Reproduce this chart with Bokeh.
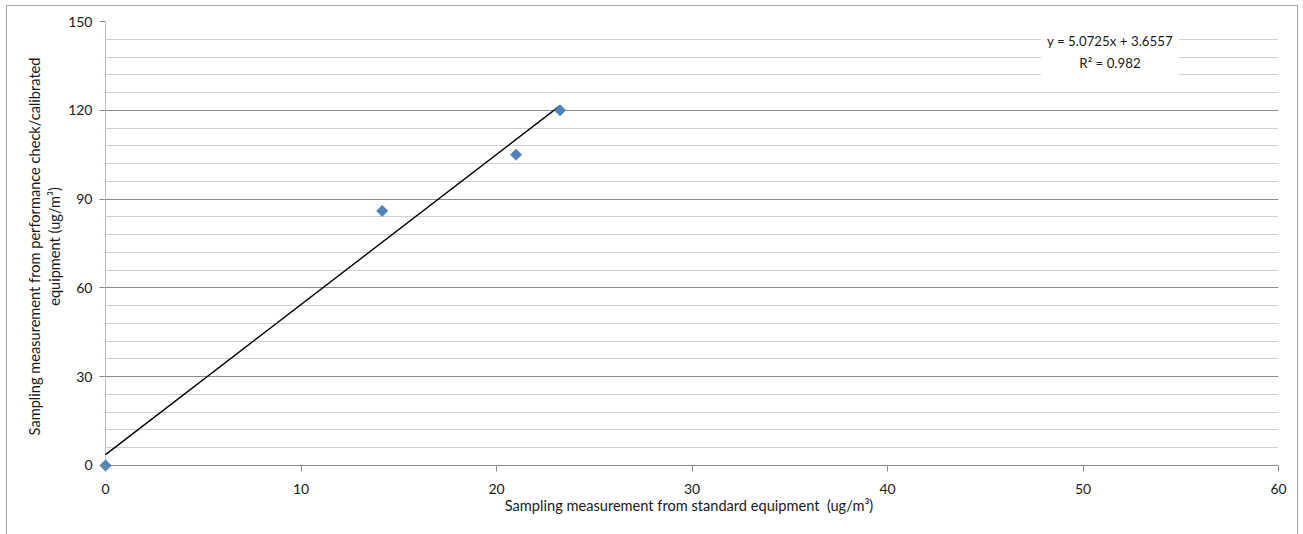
from bokeh.plotting import figure
from bokeh.models import FixedTicker, Label, Range1d, Grid, BoxAnnotation
from bokeh.embed import file_html
from bokeh.resources import INLINE

# data
x_std = [0.0, 14.15, 21.0, 23.25]
y_cal = [0.0, 86.0, 105.0, 120.0]
slope = 5.0725
intercept = 3.6557
r2 = 0.982
x_ticks = [0, 10, 20, 30, 40, 50, 60]
y_ticks = [0, 30, 60, 90, 120, 150]
y_minor = [6, 12, 18, 24, 36, 42, 48, 54, 66, 72, 78, 84, 96, 102, 108, 114, 126, 132, 138, 144]

FONT = "Lato"
# small padding beyond the axes so the marker at the origin is not clipped
PAD_X = 0.31
PAD_Y = 2.03

p = figure(width=1292, height=536, output_backend="svg", toolbar_location=None,
           x_range=Range1d(-PAD_X, 60), y_range=Range1d(-PAD_Y, 150),
           min_border_left=92, min_border_right=21, min_border_top=15, min_border_bottom=71,
           styles={"border": "1px solid #a6a6a6", "margin-left": "6px", "margin-top": "5px"})
p.outline_line_color = None
p.background_fill_color = "white"
p.border_fill_color = "white"

p.xgrid.grid_line_color = None
p.ygrid.ticker = FixedTicker(ticks=y_ticks, minor_ticks=y_minor)
p.ygrid.grid_line_color = "#8c8c8c"
p.ygrid.minor_grid_line_color = "#d0d0d0"

# hide the part of the horizontal grid left of x = 0
p.add_layout(BoxAnnotation(right=0, fill_color="white", fill_alpha=1.0,
                           line_color=None, level="underlay"))
# vertical axis line at x = 0
p.add_layout(Grid(dimension=0, ticker=FixedTicker(ticks=[0]),
                  grid_line_color="#bfbfbf", level="underlay"))

p.xaxis.ticker = FixedTicker(ticks=x_ticks)
p.yaxis.ticker = FixedTicker(ticks=y_ticks, minor_ticks=y_minor)
for ax in (p.xaxis, p.yaxis):
    ax.axis_line_color = None
    ax.major_tick_line_color = "#8c8c8c"
    ax.major_tick_out = 0
    ax.major_tick_in = 6
    ax.minor_tick_out = 0
    ax.minor_tick_in = 0
    ax.major_label_text_font = FONT
    ax.major_label_text_font_size = "14px"
    ax.major_label_text_color = "#1a1a1a"
    ax.axis_label_text_font = FONT
    ax.axis_label_text_font_size = "14.6px"
    ax.axis_label_text_font_style = "normal"
    ax.axis_label_text_color = "#1a1a1a"
p.xaxis.major_label_standoff = 12
p.yaxis.major_label_standoff = 7
p.xaxis.axis_label = "Sampling measurement from standard equipment \u00a0(ug/m\u00b3)"
p.yaxis.axis_label = "Sampling measurement from performance check/calibrated\nequipment (ug/m\u00b3)"
p.xaxis.axis_label_standoff = 0
p.yaxis.axis_label_standoff = 2

# trendline from the fitted equation
tx = [0.0, max(x_std)]
ty = [slope * v + intercept for v in tx]
p.line(tx, ty, line_color="black", line_width=1.4)

p.scatter(x_std, y_cal, marker="square", angle=0.785398, size=8,
          fill_color="#4f81bd", line_color="#4a7ab3", line_width=0.6)

eq = Label(x=51.38, y=139.7, text="y = 5.0725x + 3.6557\nR\u00b2 = 0.982",
           text_font=FONT, text_font_size="13.3px", text_align="center",
           text_baseline="middle", text_color="#1a1a1a",
           background_fill_color="white", padding=6, text_line_height=1.4)
p.add_layout(eq)

open("out.html", "w").write(file_html(p, INLINE))
